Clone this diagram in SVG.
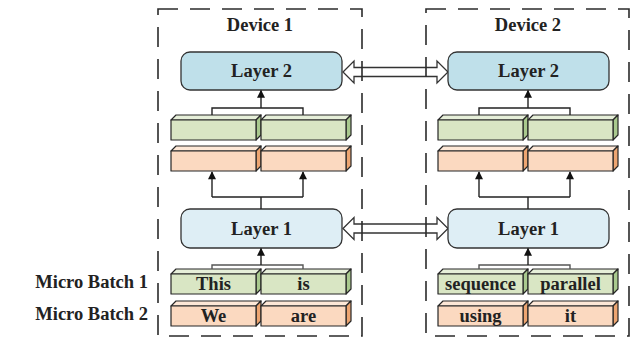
<svg xmlns="http://www.w3.org/2000/svg" width="644" height="341" viewBox="0 0 644 341">
  <style>
    .lbl { font-family: "Liberation Serif", "Times New Roman", serif; font-weight: bold; font-size: 18.5px; fill: #222; text-anchor: middle; }
    .side { text-anchor: end; }
    .dev { fill: none; stroke: #2b2b2b; stroke-width: 1.6; stroke-dasharray: 20 12; }
    .layer2 { fill: #bfe0ea; stroke: #333; stroke-width: 1.3; }
    .layer1 { fill: #deeef5; stroke: #333; stroke-width: 1.3; }
    .wire { fill: none; stroke: #222; stroke-width: 1.4; }
    .wire2 { fill: none; stroke: #555; stroke-width: 1.4; }
    .comm { fill: #fff; stroke: #333; stroke-width: 1.3; stroke-linejoin: miter; }
    .face { stroke: #262626; stroke-width: 1.2; stroke-linejoin: round; }
  </style>
  <defs>
    <marker id="tip" viewBox="0 0 10 10" refX="9" refY="5" markerWidth="9" markerHeight="8" markerUnits="userSpaceOnUse" orient="auto">
      <path d="M0,0 L10,5 L0,10 Z" fill="#111"/>
    </marker>
    <!-- 3D token slab, origin at top-left of the front face -->
    <g id="barGreen">
      <polygon class="face" points="0,0 5,-5 90,-5 85,0" fill="#e6efd9"/>
      <polygon class="face" points="85,0 90,-5 90,15 85,20" fill="#a9c98e"/>
      <rect class="face" x="0" y="0" width="85" height="20" fill="#d9e6c4"/>
    </g>
    <g id="barOrange">
      <polygon class="face" points="0,0 5,-5 90,-5 85,0" fill="#fde7d6"/>
      <polygon class="face" points="85,0 90,-5 90,15 85,20" fill="#eda571"/>
      <rect class="face" x="0" y="0" width="85" height="20" fill="#fbd9c0"/>
    </g>
  </defs>

  <!-- inter-device communication (hollow double arrows) -->
  <g id="comm">
    <polygon class="comm" points="343,72 354,61 354,67.5 437,67.5 437,61 448,72 437,83 437,76.5 354,76.5 354,83"/>
    <polygon class="comm" points="343,228.5 354,217.5 354,224 437,224 437,217.5 448,228.5 437,239.5 437,233 354,233 354,239.5"/>
  </g>

  <!-- Device 1 -->
  <g id="device1">
    <rect class="dev" x="158" y="9" width="204" height="327"/>
    <text class="lbl" x="260" y="31">Device 1</text>
  </g>
  <g id="d1-layer2">
    <rect class="layer2" x="181" y="52" width="161" height="38" rx="9"/>
    <text class="lbl" x="261.5" y="77">Layer 2</text>
  </g>
  <g id="d1-out-green">
    <use href="#barGreen" x="171" y="120"/>
    <use href="#barGreen" x="261" y="120"/>
  </g>
  <g id="d1-out-orange">
    <use href="#barOrange" x="171" y="151"/>
    <use href="#barOrange" x="261" y="151"/>
  </g>
  <g id="d1-layer1">
    <rect class="layer1" x="181" y="209" width="161" height="39" rx="9"/>
    <text class="lbl" x="261.5" y="234.5">Layer 1</text>
  </g>
  <g id="d1-mb1">
    <use href="#barGreen" x="171" y="274"/>
    <use href="#barGreen" x="261" y="274"/>
    <text class="lbl" x="213.5" y="289.5">This</text>
    <text class="lbl" x="303.5" y="289.5">is</text>
  </g>
  <g id="d1-mb2">
    <use href="#barOrange" x="171" y="306"/>
    <use href="#barOrange" x="261" y="306"/>
    <text class="lbl" x="213.5" y="321.5">We</text>
    <text class="lbl" x="303.5" y="321.5">are</text>
  </g>

  <!-- Device 2 -->
  <g id="device2">
    <rect class="dev" x="426" y="9" width="203" height="327"/>
    <text class="lbl" x="528" y="31">Device 2</text>
  </g>
  <g id="d2-layer2">
    <rect class="layer2" x="448" y="52" width="161" height="38" rx="9"/>
    <text class="lbl" x="528.5" y="77">Layer 2</text>
  </g>
  <g id="d2-out-green">
    <use href="#barGreen" x="438" y="120"/>
    <use href="#barGreen" x="528" y="120"/>
  </g>
  <g id="d2-out-orange">
    <use href="#barOrange" x="438" y="151"/>
    <use href="#barOrange" x="528" y="151"/>
  </g>
  <g id="d2-layer1">
    <rect class="layer1" x="448" y="209" width="161" height="39" rx="9"/>
    <text class="lbl" x="528.5" y="234.5">Layer 1</text>
  </g>
  <g id="d2-mb1">
    <use href="#barGreen" x="438" y="274"/>
    <use href="#barGreen" x="528" y="274"/>
    <text class="lbl" x="480.5" y="289.5">sequence</text>
    <text class="lbl" x="570.5" y="289.5">parallel</text>
  </g>
  <g id="d2-mb2">
    <use href="#barOrange" x="438" y="306"/>
    <use href="#barOrange" x="528" y="306"/>
    <text class="lbl" x="480.5" y="321.5">using</text>
    <text class="lbl" x="570.5" y="321.5">it</text>
  </g>

  <!-- row labels -->
  <g id="labels">
    <text class="lbl side" x="148" y="287.5">Micro Batch 1</text>
    <text class="lbl side" x="148" y="319.5">Micro Batch 2</text>
  </g>

  <!-- data-flow connectors -->
  <g id="connectors">
    <!-- device 1 -->
    <path class="wire" d="M212,115 V108 H303 V115"/>
    <path class="wire" d="M261,108 V90.5" marker-end="url(#tip)"/>
    <path class="wire" d="M261,209 V197 M212,197 H303"/>
    <path class="wire" d="M212,197 V172" marker-end="url(#tip)"/>
    <path class="wire" d="M303,197 V172" marker-end="url(#tip)"/>
    <path class="wire2" d="M212,269 V265 H303 V269"/>
    <path class="wire" d="M261,265 V248.5" marker-end="url(#tip)"/>
    <!-- device 2 -->
    <path class="wire" d="M479,115 V108 H570 V115"/>
    <path class="wire" d="M528,108 V90.5" marker-end="url(#tip)"/>
    <path class="wire" d="M528,209 V197 M479,197 H570"/>
    <path class="wire" d="M479,197 V172" marker-end="url(#tip)"/>
    <path class="wire" d="M570,197 V172" marker-end="url(#tip)"/>
    <path class="wire2" d="M479,269 V265 H570 V269"/>
    <path class="wire" d="M528,265 V248.5" marker-end="url(#tip)"/>
  </g>
</svg>
